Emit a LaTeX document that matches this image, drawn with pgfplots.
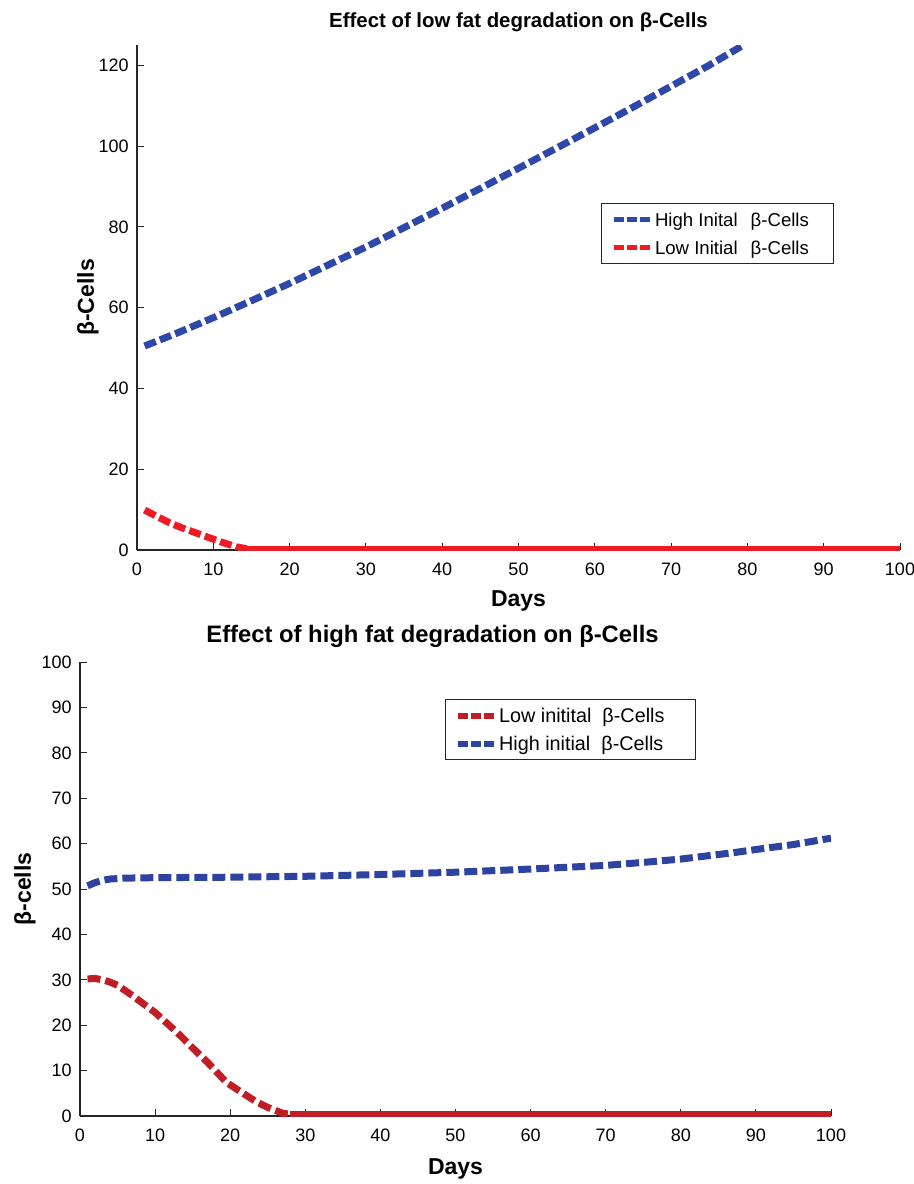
\documentclass[border=0pt]{standalone}
\usepackage{fontspec}
\setmainfont{Liberation Sans}
\usepackage{pgfplots}
\pgfplotsset{compat=1.18}
\definecolor{topblue}{RGB}{46,72,170}
\definecolor{topred}{RGB}{237,28,36}
\definecolor{botblue}{RGB}{46,66,160}
\definecolor{botred}{RGB}{192,30,36}
\pgfplotsset{
  mystyle/.style={
    scale only axis,
    axis x line*=bottom,
    axis y line*=left,
    xtick pos=bottom, ytick pos=left,
    axis line style={-, black!85, line width=0.6pt},
    tick align=inside,
    major tick length=3.5pt,
    tick style={black!85, line width=0.5pt},
    xmin=0, xmax=100,
    xtick={0,10,...,100},
    /pgf/number format/assume math mode=true,
    ticklabel style={font=\fontsize{9}{10}\selectfont},
    xticklabel style={yshift=-2.9pt},
    yticklabel style={xshift=-0.7pt},
    legend style={draw=black!85, line width=0.5pt,
      anchor=north west, inner xsep=4.7pt, inner ysep=1pt,
      nodes={inner xsep=1.3pt, inner ysep=2pt, text height=8.5pt, text depth=1.5pt},
      cells={anchor=west}},
    legend image code/.code={\draw[##1, line width=2.8pt, dash pattern=on 5pt off 1.5pt] (0pt,0pt) -- (18pt,0pt);},
  },
  dashlineA/.style={line width=3.5pt, dash pattern=on 6pt off 2.2pt},
  dashlineB/.style={line width=3.5pt, dash pattern=on 6.5pt off 2.5pt},
}
\begin{document}
\begin{tikzpicture}
\useasboundingbox (0pt,0pt) rectangle (457pt,-592pt);
% ---------- top axis ----------
\begin{axis}[mystyle,
  at={(68.5pt,-275pt)}, anchor=south west,
  width=381.5pt, height=252.5pt,
  ymin=0, ymax=125, ytick={0,20,...,120},
  title={Effect of low fat degradation on β-Cells},
  every axis title/.style={at={(axis description cs:0.5,1.0337)}, anchor=base, inner sep=0pt, font=\bfseries\fontsize{10.2}{12}\selectfont},
  xlabel={Days},
  every axis x label/.style={at={(axis description cs:0.5,-0.0792)}, anchor=north, inner sep=0pt, font=\bfseries\fontsize{11.5}{13}\selectfont},
  ylabel={β-Cells},
  every axis y label/.style={at={(axis description cs:-0.0642,0.5)}, rotate=90, anchor=center, inner sep=0pt, font=\bfseries\fontsize{11.5}{13}\selectfont},
  legend style={at={(0.608,0.687)}, font=\fontsize{9.3}{10}\selectfont},
]
\addplot[topblue, dashlineA] coordinates {
(1,50.5)(5,53.5)(10,57.5)(15,61.7)(20,66)(25,70.5)(30,75)(35,79.8)(40,84.6)
(45,89.5)(50,94.5)(55,99.5)(60,104.5)(65,109.6)(70,114.8)(75,120)(79.5,125)};
\addlegendentry{High Inital\hspace{6.5pt}β-Cells\kern6.2pt}
\addplot[topred, dashlineA] coordinates {
(1,9.9)(2.5,8.4)(4.3,6.7)(6,5.4)(7.5,4.4)(9.1,3.3)(11,2.0)(13,0.8)(14.4,0.3)};
\addlegendentry{Low Initial\hspace{6.5pt}β-Cells\kern6.2pt}
\addplot[topred, line width=2.5pt, forget plot] coordinates {(14.4,0.3)(100,0.3)};
\end{axis}
% ---------- bottom axis ----------
\begin{axis}[mystyle,
  at={(40pt,-558pt)}, anchor=south west,
  width=375.5pt, height=227pt,
  ymin=0, ymax=100, ytick={0,10,...,100},
  title={Effect of high fat degradation on β-Cells},
  every axis title/.style={at={(axis description cs:0.4694,1.0419)}, anchor=base, inner sep=0pt, font=\bfseries\fontsize{11.9}{13}\selectfont},
  xlabel={Days},
  every axis x label/.style={at={(axis description cs:0.5,-0.0925)}, anchor=north, inner sep=0pt, font=\bfseries\fontsize{11.5}{13}\selectfont},
  ylabel={β-cells},
  every axis y label/.style={at={(axis description cs:-0.0732,0.5)}, rotate=90, anchor=center, inner sep=0pt, font=\bfseries\fontsize{11.5}{13}\selectfont},
  legend style={at={(0.486,0.918)}, font=\fontsize{9.9}{11}\selectfont},
]
\addplot[botred, dashlineB] coordinates {
(1,30.2)(2,30.3)(3,30)(4,29.5)(5,28.8)(7,26.5)(10,22.8)(13,18.3)(15,15)(17,11.8)
(19.5,7.4)(22,4.7)(23.5,3.1)(25,1.9)(27,0.6)(28,0.4)};
\addlegendentry{Low initital\ \ β-Cells\kern9.5pt}
\addplot[botblue, dashlineB] coordinates {
(1,50.7)(2,51.4)(3,51.9)(4,52.2)(6,52.4)(10,52.5)(20,52.6)(30,52.8)(40,53.2)
(50,53.7)(60,54.4)(70,55.2)(76,56)(80,56.6)(87,58)(90,58.7)(95,59.8)(100,61.2)};
\addlegendentry{High initial\ \ β-Cells\kern9.5pt}
\addplot[botred, line width=3pt, forget plot] coordinates {(28,0.4)(100,0.4)};
\end{axis}
\end{tikzpicture}
\end{document}
